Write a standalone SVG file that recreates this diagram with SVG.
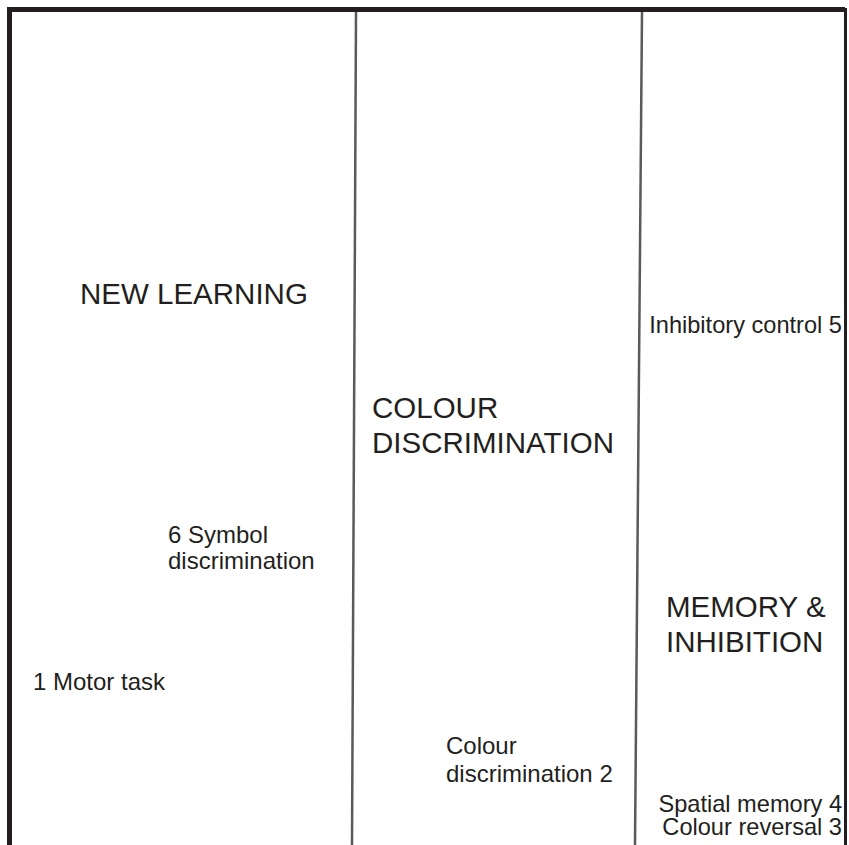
<svg xmlns="http://www.w3.org/2000/svg" width="849" height="845" viewBox="0 0 849 845">
<style>
.frame{stroke:#231f20;fill:none}
.div{stroke:#5a5a5a;stroke-width:2.5;fill:none}
text{font-family:"Liberation Sans",Arial,sans-serif;fill:#231f20}
.big{font-size:29.5px}
.small{font-size:24px}
.rs{font-size:23.6px}
</style>
<rect width="849" height="845" fill="#ffffff"/>
<g id="connectors">
<path class="frame" stroke-width="5" d="M9.5 845 V9.5 H845"/>
<path class="frame" stroke-width="3" d="M845.5 8 V845"/>
<path class="div" d="M356 12 L352 845"/>
<path class="div" d="M642 12 L635 845"/>
</g>
<g id="new-learning"><text class="big" x="80" y="304">NEW LEARNING</text></g>
<g id="colour-discrimination-title"><text class="big" x="372" y="418">COLOUR</text><text class="big" x="372" y="453">DISCRIMINATION</text></g>
<g id="memory-inhibition"><text class="big" x="666" y="617">MEMORY &amp;</text><text class="big" x="666" y="652">INHIBITION</text></g>
<g id="symbol-discrimination"><text class="small" x="168" y="543">6 Symbol</text><text class="small" x="168" y="569">discrimination</text></g>
<g id="motor-task"><text class="small" x="33" y="690">1 Motor task</text></g>
<g id="colour-discrimination-2"><text class="small" x="446" y="754">Colour</text><text class="small" x="446" y="782">discrimination 2</text></g>
<g id="inhibitory-control"><text class="rs" x="842" y="333" text-anchor="end">Inhibitory control 5</text></g>
<g id="spatial-memory"><text class="rs" x="842" y="812" text-anchor="end">Spatial memory 4</text></g>
<g id="colour-reversal"><text class="rs" x="842" y="835" text-anchor="end">Colour reversal 3</text></g>
</svg>
